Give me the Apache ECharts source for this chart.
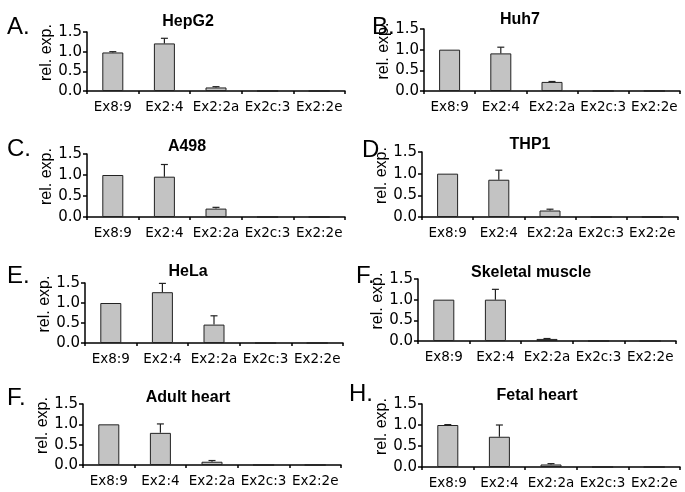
<!DOCTYPE html>
<html><head><meta charset="utf-8">
<script src="https://cdn.jsdelivr.net/npm/echarts@6/dist/echarts.min.js"></script>
<style>html,body{margin:0;padding:0;background:#fff}#c{width:685px;height:492px}</style>
</head><body><div id="c"></div>
<script>
// ---- data ----
const categories = ['Ex8:9', 'Ex2:4', 'Ex2:2a', 'Ex2c:3', 'Ex2:2e'];
const yMin = 0, yMax = 1.5, yStep = 0.5;
const panelTitles = ['HepG2', 'Huh7', 'A498', 'THP1', 'HeLa', 'Skeletal muscle', 'Adult heart', 'Fetal heart'];
const panelLetters = ['A.', 'B.', 'C.', 'D', 'E.', 'F.', 'F.', 'H.'];
const yAxisName = 'rel. exp.';

const hepg2Mean = [0.98, 1.21, 0.09, 0, 0];
const hepg2Err  = [0.02, 0.13, 0.02, 0, 0];
const huh7Mean  = [1.00, 0.91, 0.22, 0, 0];
const huh7Err   = [0.00, 0.15, 0.01, 0, 0];
const a498Mean  = [1.00, 0.96, 0.20, 0, 0];
const a498Err   = [0.00, 0.29, 0.03, 0, 0];
const thp1Mean  = [1.00, 0.86, 0.15, 0, 0];
const thp1Err   = [0.00, 0.22, 0.03, 0, 0];
const helaMean  = [1.00, 1.27, 0.46, 0, 0];
const helaErr   = [0.00, 0.22, 0.22, 0, 0];
const skmMean   = [1.00, 1.00, 0.05, 0, 0];
const skmErr    = [0.00, 0.25, 0.01, 0, 0];
const adultMean = [1.00, 0.79, 0.08, 0, 0];
const adultErr  = [0.00, 0.22, 0.03, 0, 0];
const fetalMean = [1.00, 0.72, 0.06, 0, 0];
const fetalErr  = [0.01, 0.28, 0.02, 0, 0];

const panelMeans = [hepg2Mean, huh7Mean, a498Mean, thp1Mean, helaMean, skmMean, adultMean, fetalMean];
const panelErrs  = [hepg2Err, huh7Err, a498Err, thp1Err, helaErr, skmErr, adultErr, fetalErr];

// ---- layout ----
const grids = [
  {left: 87,  top: 32,  width: 258, height: 59},
  {left: 424, top: 29,  width: 256, height: 62},
  {left: 87,  top: 154, width: 258, height: 63},
  {left: 422, top: 152, width: 256, height: 65},
  {left: 85,  top: 283, width: 258, height: 60},
  {left: 418, top: 279, width: 258, height: 62},
  {left: 83,  top: 404, width: 258, height: 61},
  {left: 422, top: 404, width: 258, height: 63}
];
const titlePos = [[188, 22], [520, 20], [187, 147], [530, 145], [188, 272], [531, 273], [188, 398], [537, 396]];
const letterPos = [[7, 27], [372, 27], [7, 149], [362, 150], [7, 276], [356, 276], [7, 398], [349, 394]];

const axisColor = '#000';
const option = {
  animation: false,
  backgroundColor: '#fff',
  grid: grids.map(g => Object.assign({containLabel: false}, g)),
  xAxis: grids.map((g, i) => ({
    type: 'category', gridIndex: i, data: categories,
    axisLine: {lineStyle: {color: axisColor, width: 1.5}},
    axisTick: {show: true, length: 3, alignWithLabel: false, lineStyle: {color: axisColor, width: 1.5}},
    axisLabel: {color: '#000', fontFamily: 'DejaVu Sans', fontSize: 13.5, margin: 9, interval: 0}
  })),
  yAxis: grids.map((g, i) => ({
    type: 'value', gridIndex: i, min: yMin, max: yMax, interval: yStep,
    name: yAxisName, nameLocation: 'middle', nameGap: 22,
    nameTextStyle: {color: '#000', fontFamily: 'Liberation Sans', fontSize: 16, padding: [0, 0, 0, 18]},
    axisLine: {show: true, lineStyle: {color: axisColor, width: 1.5}},
    axisTick: {show: true, length: 4, lineStyle: {color: axisColor, width: 1.5}},
    splitLine: {show: false},
    axisLabel: {color: '#000', fontFamily: 'DejaVu Sans', fontSize: 15, margin: 5,
      formatter: v => v.toFixed(1)}
  })),
  series: [],
  graphic: []
};

panelMeans.forEach((means, i) => {
  option.series.push({
    type: 'bar', xAxisIndex: i, yAxisIndex: i, data: means, barWidth: 21,
    itemStyle: {color: '#c3c3c3', borderColor: '#222', borderWidth: 1}
  });
  const errData = means.map((m, k) => [k, m, panelErrs[i][k]]);
  option.series.push({
    type: 'custom', xAxisIndex: i, yAxisIndex: i, data: errData, z: 5,
    renderItem: (params, api) => {
      const k = api.value(0), m = api.value(1), e = api.value(2);
      if (!(m > 0) || !(e > 0)) return null;
      const base = api.coord([k, m]);
      const tip = api.coord([k, m + e]);
      const style = {stroke: '#222', lineWidth: 1.2};
      return {type: 'group', children: [
        {type: 'line', shape: {x1: base[0], y1: base[1], x2: tip[0], y2: tip[1]}, style},
        {type: 'line', shape: {x1: tip[0] - 3.5, y1: tip[1], x2: tip[0] + 3.5, y2: tip[1]}, style}
      ]};
    }
  });
  option.graphic.push({
    type: 'text', x: titlePos[i][0], y: titlePos[i][1],
    style: {text: panelTitles[i], align: 'center', verticalAlign: 'middle',
      font: 'bold 16px "Liberation Sans", Arial', fill: '#000'}
  });
  option.graphic.push({
    type: 'text', x: letterPos[i][0], y: letterPos[i][1],
    style: {text: panelLetters[i], align: 'left', verticalAlign: 'middle',
      font: '24px "Liberation Sans", Arial', fill: '#000'}
  });
});

const chart = echarts.init(document.getElementById('c'), null, {renderer: 'canvas'});
chart.setOption(option);
</script>
</body></html>
